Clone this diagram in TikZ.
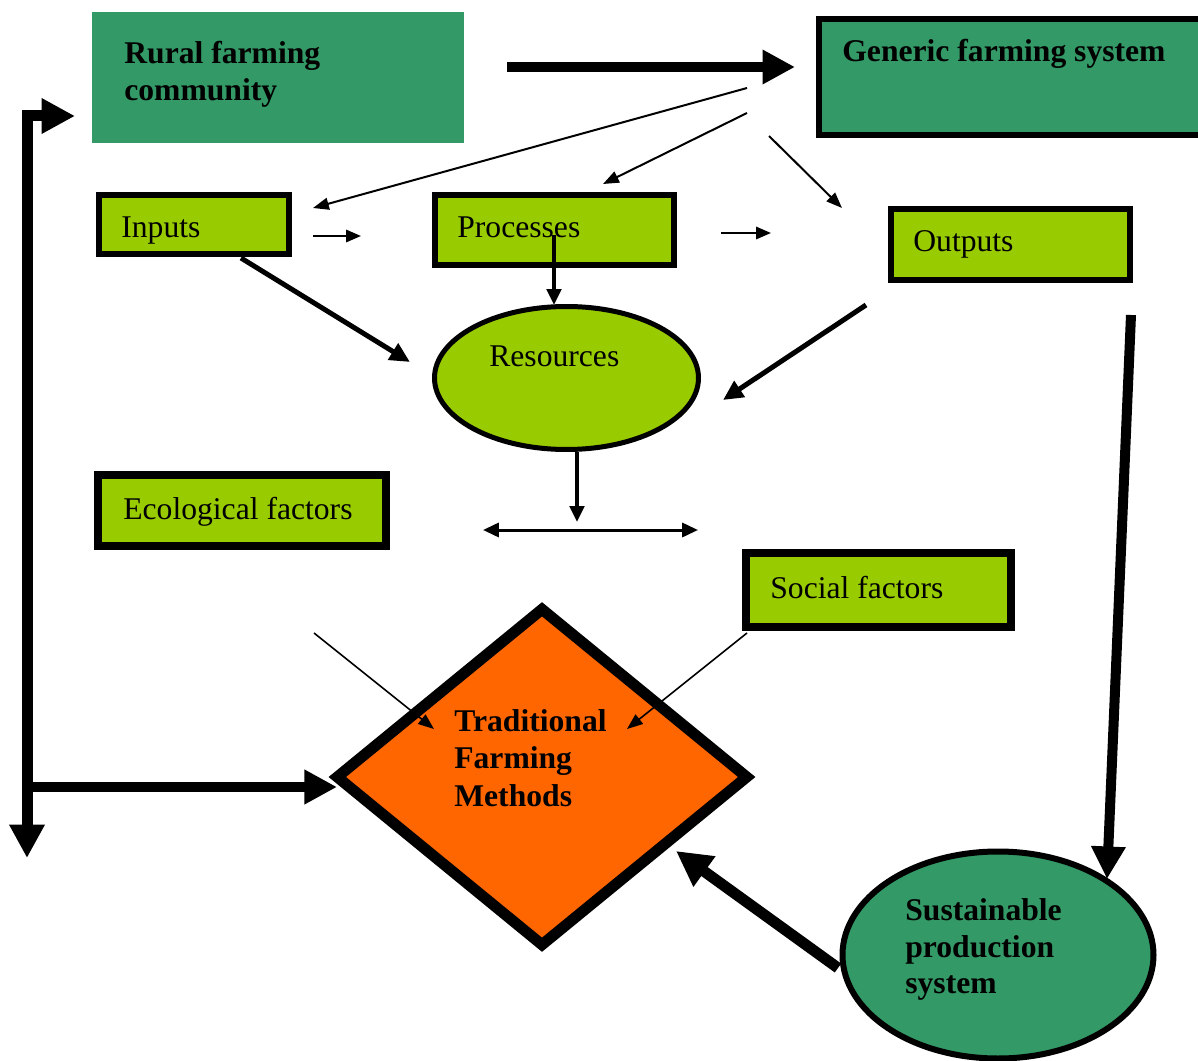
\documentclass[tikz,border=0pt]{standalone}
\usepackage{fontspec}
\setmainfont{Liberation Serif}
\usetikzlibrary{arrows.meta,shapes.geometric}
\definecolor{darkgreen}{HTML}{339966}
\definecolor{limegreen}{HTML}{99CC00}
\definecolor{orangefill}{HTML}{FF6600}
\newlength\pxu \setlength\pxu{0.02cm}
\begin{document}
\begin{tikzpicture}[x=0.02cm,y=-0.02cm,
  lbl/.style={anchor=base west, inner sep=0pt, font=\fontsize{18}{21}\selectfont},
  blbl/.style={anchor=base west, inner sep=0pt, font=\fontsize{18}{21}\selectfont\bfseries},
  limebox/.style={rectangle, draw=black, fill=limegreen, inner sep=0pt},
  greenbox/.style={rectangle, fill=darkgreen, inner sep=0pt},
  hugearrow/.style={line width=10\pxu, -{Triangle[length=18.5pt,width=18.5pt]}},
  bigarrow/.style={line width=5\pxu, -{Triangle[length=11.4pt,width=10.5pt]}},
  midarrow/.style={line width=4\pxu, -{Triangle[length=9.1pt,width=8.2pt]}},
  smallarrow/.style={line width=2.2\pxu, -{Triangle[length=8.5pt,width=7pt]}},
  thinarrow/.style={line width=1.6\pxu, -{Triangle[length=9pt,width=6.8pt]}},
]
\path[use as bounding box] (0,0) rectangle (1198,1061);
\clip (0,0) rectangle (1198,1061);

% boxes
\node[greenbox, minimum width=372\pxu, minimum height=131\pxu] (rural) at (278,77.5) {};
\node[greenbox, draw=black, line width=6\pxu, minimum width=383\pxu, minimum height=116\pxu] (generic) at (1010.5,77) {};
\node[limebox, line width=6\pxu, minimum width=190\pxu, minimum height=59\pxu] (inputs) at (194,224.5) {};
\node[limebox, line width=6\pxu, minimum width=239\pxu, minimum height=70\pxu] (processes) at (554.5,230) {};
\node[limebox, line width=6\pxu, minimum width=239\pxu, minimum height=71\pxu] (outputs) at (1010.5,244.5) {};
\node[limebox, line width=8\pxu, minimum width=288\pxu, minimum height=71\pxu] (ecological) at (242,510.5) {};
\node[limebox, line width=8\pxu, minimum width=265\pxu, minimum height=74\pxu] (social) at (878.5,590) {};
\node[ellipse, draw=black, fill=limegreen, line width=5\pxu, inner sep=0pt, minimum width=264\pxu, minimum height=143\pxu] (resources) at (566.5,378) {};
\node[ellipse, draw=black, fill=darkgreen, line width=6\pxu, inner sep=0pt, minimum width=311\pxu, minimum height=207\pxu] (sustainable) at (998,955) {};
\node[diamond, draw=black, fill=orangefill, line width=11\pxu, inner sep=0pt, minimum width=414\pxu, minimum height=340\pxu] (tfm) at (542,777) {};

% texts
\node[blbl] (ruralA) at (124,64) {Rural farming};
\node[blbl] (ruralB) at (124,101) {community};
\node[blbl] (genericT) at (842,62) {Generic farming system};
\node[lbl] (inputsT) at (121,237) {Inputs};
\node[lbl] (processesT) at (457,237) {Processes};
\node[lbl] (outputsT) at (913,252) {Outputs};
\node[lbl] (resourcesT) at (489,366) {Resources};
\node[lbl] (ecologicalT) at (123,519) {Ecological factors};
\node[lbl] (socialT) at (770,598) {Social factors};
\node[blbl] (tfmA) at (454,731) {Traditional};
\node[blbl] (tfmB) at (454,768) {Farming};
\node[blbl] (tfmC) at (454,806) {Methods};
\node[blbl] (susA) at (905,920) {Sustainable};
\node[blbl] (susB) at (905,957) {production};
\node[blbl] (susC) at (905,993) {system};

% connector end points
\coordinate (topS) at (507,67);   \coordinate (topE) at (795,67);
\coordinate (g1S) at (747,88);    \coordinate (g1E) at (313,208);
\coordinate (g2S) at (747,113);   \coordinate (g2E) at (603,184);
\coordinate (g3S) at (769,136);   \coordinate (g3E) at (842,208);
\coordinate (ipS) at (313,236);   \coordinate (ipE) at (361,236);
\coordinate (poS) at (721,233);   \coordinate (poE) at (771,233);
\coordinate (prS) at (554,235);   \coordinate (prE) at (554,305);
\coordinate (irS) at (241,258);   \coordinate (irE) at (410,362);
\coordinate (orS) at (866,305);   \coordinate (orE) at (723,400);
\coordinate (rdS) at (577,452);   \coordinate (rdE) at (577,522);
\coordinate (hL) at (483,530);    \coordinate (hR) at (698,530);
\coordinate (ecS) at (314,633);   \coordinate (ecE) at (434,729);
\coordinate (soS) at (747,633);   \coordinate (soE) at (627,729);
\coordinate (lTop) at (75,116);   \coordinate (lBot) at (27,858);
\coordinate (lMid) at (27,787);   \coordinate (lMidE) at (337,787);
\coordinate (rS) at (1131,315);   \coordinate (rE) at (1107,879);
\coordinate (sS) at (838,968);    \coordinate (sE) at (676,851);

% connectors
\draw[hugearrow] (topS) -- (topE);
\draw[thinarrow, line width=2\pxu] (g1S) -- (g1E);
\draw[thinarrow, line width=2\pxu] (g2S) -- (g2E);
\draw[thinarrow, line width=2\pxu] (g3S) -- (g3E);
\draw[smallarrow] (ipS) -- (ipE);
\draw[smallarrow] (poS) -- (poE);
\draw[midarrow] (prS) -- (prE);
\draw[bigarrow] (irS) -- (irE);
\draw[bigarrow] (orS) -- (orE);
\draw[midarrow] (rdS) -- (rdE);
\draw[line width=3\pxu, {Triangle[length=9pt,width=8pt]}-{Triangle[length=9pt,width=8pt]}] (hL) -- (hR);
\draw[thinarrow] (ecS) -- (ecE);
\draw[thinarrow] (soS) -- (soE);
\draw[line width=11\pxu, {Triangle[length=19pt,width=19pt]}-{Triangle[length=19pt,width=19pt]}] (lTop) -| (lBot);
\draw[hugearrow] (lMid) -- (lMidE);
\draw[hugearrow] (rS) -- (rE);
\draw[hugearrow, line width=11\pxu, -{Triangle[length=20pt,width=20pt]}] (sS) -- (sE);
\end{tikzpicture}
\end{document}
